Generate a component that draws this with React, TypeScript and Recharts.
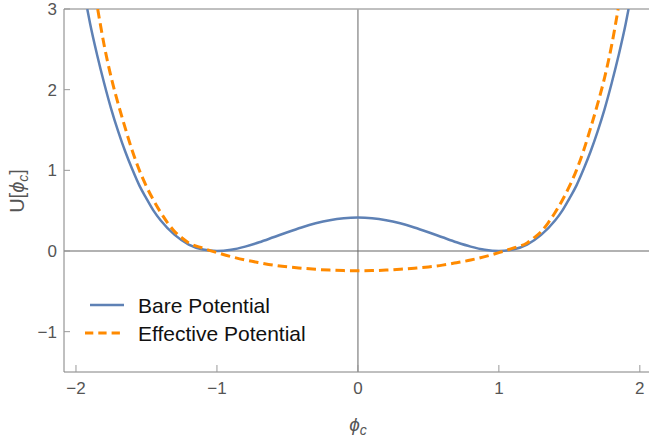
import React from 'react'
import {LineChart, Line, XAxis, YAxis, ReferenceLine, Legend} from 'recharts'

// values
const phiBare = [-1.92, -1.9, -1.85, -1.8, -1.75, -1.7, -1.65, -1.6, -1.55, -1.5, -1.45, -1.4, -1.3, -1.2, -1.1, -1.0, -0.9, -0.8, -0.7, -0.6, -0.5, -0.4, -0.3, -0.2, -0.1, 0,
  0.1, 0.2, 0.3, 0.4, 0.5, 0.6, 0.7, 0.8, 0.9, 1.0, 1.1, 1.2, 1.3, 1.4, 1.45, 1.5, 1.55, 1.6, 1.65, 1.7, 1.75, 1.8, 1.85, 1.9, 1.92]
const uBare = [3.0, 2.82, 2.43, 2.08, 1.76, 1.48, 1.23, 1.01, 0.81, 0.65, 0.5, 0.38, 0.2, 0.08, 0.018, 0, 0.015, 0.054, 0.108, 0.17, 0.233, 0.292, 0.343, 0.382, 0.406, 0.414,
  0.406, 0.382, 0.343, 0.292, 0.233, 0.17, 0.108, 0.054, 0.015, 0, 0.018, 0.08, 0.2, 0.38, 0.5, 0.65, 0.81, 1.01, 1.23, 1.48, 1.76, 2.08, 2.43, 2.82, 3.0]

const phiEff = [-1.846, -1.8, -1.75, -1.7, -1.65, -1.6, -1.55, -1.5, -1.45, -1.4, -1.35, -1.3, -1.25, -1.2, -1.1, -1.0, -0.9, -0.8, -0.7, -0.6, -0.5, -0.4, -0.3, -0.2, -0.1, 0,
  0.1, 0.2, 0.3, 0.4, 0.5, 0.6, 0.7, 0.8, 0.9, 1.0, 1.1, 1.2, 1.25, 1.3, 1.35, 1.4, 1.45, 1.5, 1.55, 1.6, 1.65, 1.7, 1.75, 1.8, 1.846]
const uEff = [3.0, 2.55, 2.15, 1.82, 1.52, 1.24, 1.0, 0.8, 0.63, 0.48, 0.35, 0.24, 0.165, 0.1, 0.035, -0.02, -0.07, -0.112, -0.145, -0.175, -0.197, -0.213, -0.227, -0.237, -0.243, -0.245,
  -0.243, -0.237, -0.227, -0.213, -0.197, -0.175, -0.145, -0.112, -0.07, -0.02, 0.035, 0.1, 0.165, 0.24, 0.35, 0.48, 0.63, 0.8, 1.0, 1.24, 1.52, 1.82, 2.15, 2.55, 3.0]

const seriesNames = ['Bare Potential', 'Effective Potential']
const xTicks = [-2, -1, 0, 1, 2]
const yTicks = [-1, 0, 1, 2, 3]

const bareData = phiBare.map((p, i) => ({phi: p, u: uBare[i]}))
const effData = phiEff.map((p, i) => ({phi: p, u: uEff[i]}))

const BLUE = '#5e81b5'
const ORANGE = '#ff8a00'
const FONT = 'Liberation Sans, Arial, sans-serif'
const TICK_COLOR = '#555'

const fmt = (v) => (v < 0 ? '\u2212' + Math.abs(v) : String(v))

const XTick = ({x, y, payload}) => (
  <g>
    <line x1={x} x2={x} y1={y} y2={y - 7} stroke='#999' />
    <text x={x} y={y + 22} textAnchor='middle' fill={TICK_COLOR} fontSize={17} fontFamily={FONT}>{fmt(payload.value)}</text>
  </g>
)

const YTick = ({x, y, payload}) => (
  <g>
    <line x1={x} x2={x + 6} y1={y} y2={y} stroke='#999' />
    <text x={x - 7} y={y + 6} textAnchor='end' fill={TICK_COLOR} fontSize={17} fontFamily={FONT}>{fmt(payload.value)}</text>
  </g>
)

const renderLegend = () => (
  <svg width={260} height={60} style={{display: 'block'}}>
    <line x1={10} x2={44} y1={15} y2={15} stroke={BLUE} strokeWidth={2.5} />
    <text x={58} y={22.5} fontSize={21} fontFamily={FONT} fill='#111'>{seriesNames[0]}</text>
    <line x1={5} x2={41} y1={43} y2={43} stroke={ORANGE} strokeWidth={3} strokeDasharray='8.3 5' />
    <text x={58} y={51} fontSize={21} fontFamily={FONT} fill='#111'>{seriesNames[1]}</text>
  </svg>
)

export default function App() {
  return (
    <div style={{position: 'absolute', left: 0, top: 0, width: 649, height: 445, background: '#fff'}}>
      <LineChart width={649} height={445} margin={{top: 9, right: 0, bottom: 43, left: 4}}>
        <XAxis dataKey='phi' type='number' domain={[-2.085, 2.065]} ticks={xTicks} allowDataOverflow
          height={30} tickSize={0} tickMargin={0} tickLine={false} tick={XTick} axisLine={{stroke: '#808080'}} />
        <YAxis dataKey='u' type='number' domain={[-1.5, 3]} ticks={yTicks} allowDataOverflow
          width={60} tickSize={0} tickMargin={0} tickLine={false} tick={YTick} axisLine={{stroke: '#808080'}} />
        <ReferenceLine y={3} stroke='#808080' />
        <ReferenceLine x={0} stroke='#aaa' strokeWidth={1.8} />
        <ReferenceLine y={0} stroke='#666' strokeWidth={1.2} />
        <Line data={bareData} dataKey='u' name={seriesNames[0]} type='monotone' stroke={BLUE} strokeWidth={2.5} dot={false} isAnimationActive={false} />
        <Line data={effData} dataKey='u' name={seriesNames[1]} type='monotone' stroke={ORANGE} strokeWidth={3} strokeDasharray='9.5 5' dot={false} isAnimationActive={false} />
        <Legend layout='vertical' align='center' verticalAlign='middle' content={renderLegend}
          wrapperStyle={{left: 80, top: 290, width: 260}} />
      </LineChart>
      <svg width={649} height={445} style={{position: 'absolute', left: 0, top: 0, pointerEvents: 'none'}}>
        <text x={358} y={431} textAnchor='middle' fill={TICK_COLOR} fontSize={19} fontFamily={FONT}>
          <tspan fontStyle='italic'>{'\u03d5'}</tspan>
          <tspan fontStyle='italic' fontSize={14} dy={4}>c</tspan>
        </text>
        <text transform='translate(24 191) rotate(-90)' textAnchor='middle' fill={TICK_COLOR} fontSize={20} fontFamily={FONT}>
          <tspan>U[</tspan>
          <tspan fontStyle='italic'>{'\u03d5'}</tspan>
          <tspan fontStyle='italic' fontSize={14} dy={4}>c</tspan>
          <tspan dy={-4}>]</tspan>
        </text>
      </svg>
    </div>
  )
}
